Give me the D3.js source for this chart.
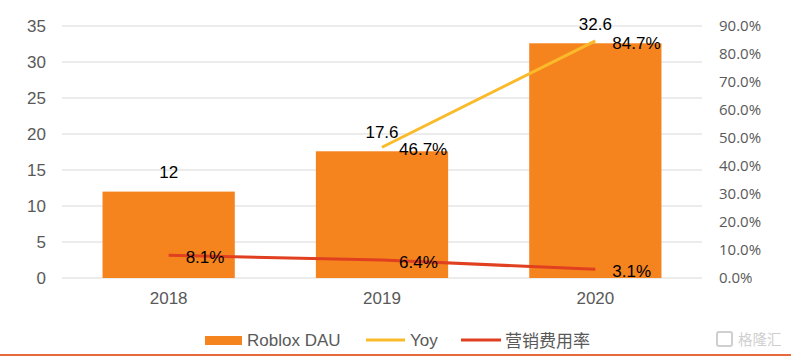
<!DOCTYPE html>
<html><head><meta charset="utf-8">
<script src="https://cdn.jsdelivr.net/npm/d3@7"></script>
<style>body{margin:0;background:#fff}svg{display:block}</style>
</head><body>
<svg id="c" width="791" height="356"></svg>
<script>
const years = ["2018", "2019", "2020"];
const dau = [12, 17.6, 32.6];
const yoyYears = ["2019", "2020"];
const yoy = [46.7, 84.7];
const mktRate = [8.1, 6.4, 3.1];
const leftTicks = [0, 5, 10, 15, 20, 25, 30, 35];
const rightTicks = [0, 10, 20, 30, 40, 50, 60, 70, 80, 90];
const legendLabels = ["Roblox DAU", "Yoy", "营销费用率"];

(function () {
const svg = d3.select("#c");
const pL = 62, pR = 702, pT = 26, pB = 278;
const x = d3.scaleBand().domain(years).range([pL, pR]).paddingInner(0.38).paddingOuter(0.19);
const yL = d3.scaleLinear().domain([0, 35]).range([pB, pT]);
const yR = d3.scaleLinear().domain([0, 90]).range([pB, pT]);
const font = "'Liberation Sans', Arial, sans-serif";
const cx = d => x(d) + x.bandwidth() / 2;

// gridlines
svg.append("g").selectAll("line").data(leftTicks).join("line")
  .attr("x1", pL).attr("x2", pR).attr("y1", d => yL(d)).attr("y2", d => yL(d))
  .attr("stroke", "#d9d9d9").attr("stroke-width", 1);

// left axis
const ga = svg.append("g").attr("transform", `translate(${pL},0)`)
  .call(d3.axisLeft(yL).tickValues(leftTicks).tickSize(0).tickPadding(16));
ga.select(".domain").remove();
ga.selectAll("text").attr("font-family", font).attr("font-size", 17).attr("fill", "#595959");

// right axis
const gr = svg.append("g").attr("transform", `translate(${pR},0)`)
  .call(d3.axisRight(yR).tickValues(rightTicks).tickSize(0).tickPadding(17).tickFormat(d => d.toFixed(1) + "%"));
gr.select(".domain").remove();
gr.selectAll("text").attr("font-family", "'Open Sans', sans-serif").attr("font-size", 15).attr("fill", "#595959");

// x axis labels
const gx = svg.append("g").attr("transform", `translate(0,${pB})`)
  .call(d3.axisBottom(x).tickSize(0).tickPadding(14));
gx.select(".domain").remove();
gx.selectAll("text").attr("font-family", font).attr("font-size", 17).attr("fill", "#595959");

// bars
svg.append("g").selectAll("rect").data(years).join("rect")
  .attr("x", d => x(d)).attr("width", x.bandwidth())
  .attr("y", (d, i) => yL(dau[i])).attr("height", (d, i) => yL(0) - yL(dau[i]))
  .attr("fill", "#F5841F");

// lines
const line = d3.line().x(d => cx(d[0])).y(d => yR(d[1]));
svg.append("path").datum(yoyYears.map((d, i) => [d, yoy[i]]))
  .attr("d", line).attr("fill", "none").attr("stroke", "#FBBA2A").attr("stroke-width", 3);
svg.append("path").datum(years.map((d, i) => [d, mktRate[i]]))
  .attr("d", line).attr("fill", "none").attr("stroke", "#E0401F").attr("stroke-width", 3);

// labels
svg.append("g").selectAll("text").data(years).join("text")
  .attr("x", d => cx(d)).attr("y", (d, i) => yL(dau[i]) - 13.5)
  .attr("text-anchor", "middle").attr("font-family", font).attr("font-size", 17).attr("fill", "#000")
  .text((d, i) => dau[i]);
svg.append("g").selectAll("text").data(yoyYears).join("text")
  .attr("x", d => cx(d) + 17).attr("y", (d, i) => yR(yoy[i]) + 8)
  .attr("font-family", font).attr("font-size", 17).attr("fill", "#000")
  .text((d, i) => yoy[i].toFixed(1) + "%");
svg.append("g").selectAll("text").data(years).join("text")
  .attr("x", d => cx(d) + 17).attr("y", (d, i) => yR(mktRate[i]) + 7.5)
  .attr("font-family", font).attr("font-size", 17).attr("fill", "#000")
  .text((d, i) => mktRate[i].toFixed(1) + "%");

// legend
const lg = svg.append("g").attr("font-family", font).attr("font-size", 17).attr("fill", "#595959");
lg.append("rect").attr("x", 205).attr("y", 336).attr("width", 37).attr("height", 9).attr("fill", "#F5841F");
lg.append("text").attr("x", 247).attr("y", 346).text(legendLabels[0]);
lg.append("line").attr("x1", 366).attr("x2", 405).attr("y1", 340).attr("y2", 340).attr("stroke", "#FBBA2A").attr("stroke-width", 3);
lg.append("text").attr("x", 410).attr("y", 346).text(legendLabels[1]);
lg.append("line").attr("x1", 461).attr("x2", 501).attr("y1", 340).attr("y2", 340).attr("stroke", "#E0401F").attr("stroke-width", 3);
lg.append("text").attr("x", 505).attr("y", 346.5).attr("font-family", "'Noto Sans CJK SC', sans-serif").attr("font-size", 17).text(legendLabels[2]);

// watermark
svg.append("text").attr("x", 738).attr("y", 345).attr("font-family", "'Noto Sans CJK SC', sans-serif")
  .attr("font-size", 14.5).attr("fill", "#cfcfcf").text("格隆汇");
svg.append("rect").attr("x", 717).attr("y", 332).attr("width", 15).attr("height", 14)
  .attr("fill", "none").attr("stroke", "#cfcfcf").attr("stroke-width", 2).attr("rx", 2);

// bottom border
svg.append("rect").attr("x", 0).attr("y", 354).attr("width", 791).attr("height", 2).attr("fill", "#E8693C");
})();
</script>
</body></html>
